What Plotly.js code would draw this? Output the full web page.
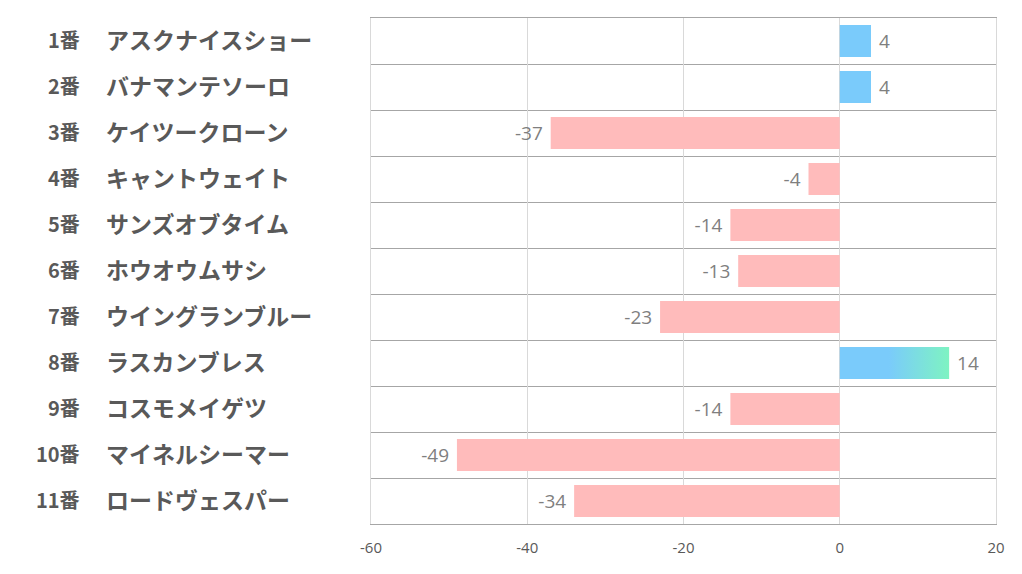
<!DOCTYPE html>
<html><head><meta charset="utf-8">
<script src="https://cdn.plot.ly/plotly-3.0.1.min.js"></script>
<style>html,body{margin:0;padding:0;background:#fff}</style>
</head><body>
<div id="chart" style="width:1022px;height:574px"></div>
<script>
const numbers = ["1番","2番","3番","4番","5番","6番","7番","8番","9番","10番","11番"];
const names = ["アスクナイスショー","バナマンテソーロ","ケイツークローン","キャントウェイト","サンズオブタイム","ホウオウムサシ","ウイングランブルー","ラスカンブレス","コスモメイゲツ","マイネルシーマー","ロードヴェスパー"];
const values = [4,4,-37,-4,-14,-13,-23,14,-14,-49,-34];
const xTicks = [-60,-40,-20,0,20];

const idx = values.map((v,i)=>i);
const gradIndex = values.indexOf(Math.max(...values));
const barColors = values.map((v,i)=> i===gradIndex ? 'rgba(0,0,0,0)' : (v>=0 ? '#7acbfb' : '#ffbbbb'));
const halfW = 0.35;
const pad = '\u00a0';

const traces = [{
  type:'bar', orientation:'h', x: values, y: idx,
  width: 0.7,
  marker:{color: barColors, line:{width:0}},
  text: values.map(v => v >= 0 ? pad + String(v) : String(v) + pad), textposition:'outside', cliponaxis:false,
  textfont:{family:'"Open Sans", "Noto Sans", sans-serif', size:19, color:'#7f7f7f'},
  hoverinfo:'none'
},{
  type:'scatter', mode:'lines',
  x:[0, values[gradIndex], values[gradIndex], 0, 0],
  y:[gradIndex-halfW, gradIndex-halfW, gradIndex+halfW, gradIndex+halfW, gradIndex-halfW],
  fill:'toself', line:{width:0},
  fillgradient:{type:'horizontal', colorscale:[[0,'#7acbfb'],[0.45,'#7acbfb'],[1,'#7ef3c2']]},
  hoverinfo:'none', showlegend:false
}];

const annotations = [];
idx.forEach(i=>{
  annotations.push({xref:'paper', yref:'y', x:-0.463, y:i, yshift:2, text:numbers[i], showarrow:false, xanchor:'right',
    font:{family:'"Noto Sans CJK JP", sans-serif', size:20, color:'#595959', weight:'bold'}});
  annotations.push({xref:'paper', yref:'y', x:-0.428, y:i, yshift:2, text:names[i], showarrow:false, xanchor:'left',
    font:{family:'"Noto Sans CJK JP", sans-serif', size:23, color:'#595959', weight:'bold'}});
});

const layout = {
  width:1022, height:574,
  margin:{l:371, r:26, t:18, b:50},
  paper_bgcolor:'#fff', plot_bgcolor:'#fff',
  showlegend:false,
  xaxis:{range:[-60,20], tickvals:xTicks, ticktext:xTicks.map(String), showgrid:true, gridcolor:'#d9d9d9', gridwidth:1,
    zeroline:false, showline:true, mirror:true, linecolor:'#a6a6a6', linewidth:1, ticks:'', ticklen:0, ticklabelstandoff:10,
    tickfont:{family:'"Open Sans", "Noto Sans", sans-serif', size:15, color:'#595959'}},
  yaxis:{range:[10.5,-0.5], tickvals:idx, showticklabels:false, showgrid:false, zeroline:false, ticks:'',
    showline:true, mirror:true, linecolor:'#d9d9d9', linewidth:1,
    minor:{tick0:0.5, dtick:1, showgrid:true, gridcolor:'#a6a6a6', gridwidth:1, ticks:''}},
  annotations: annotations
};
Plotly.newPlot('chart', traces, layout, {staticPlot:true});
</script>
</body></html>
